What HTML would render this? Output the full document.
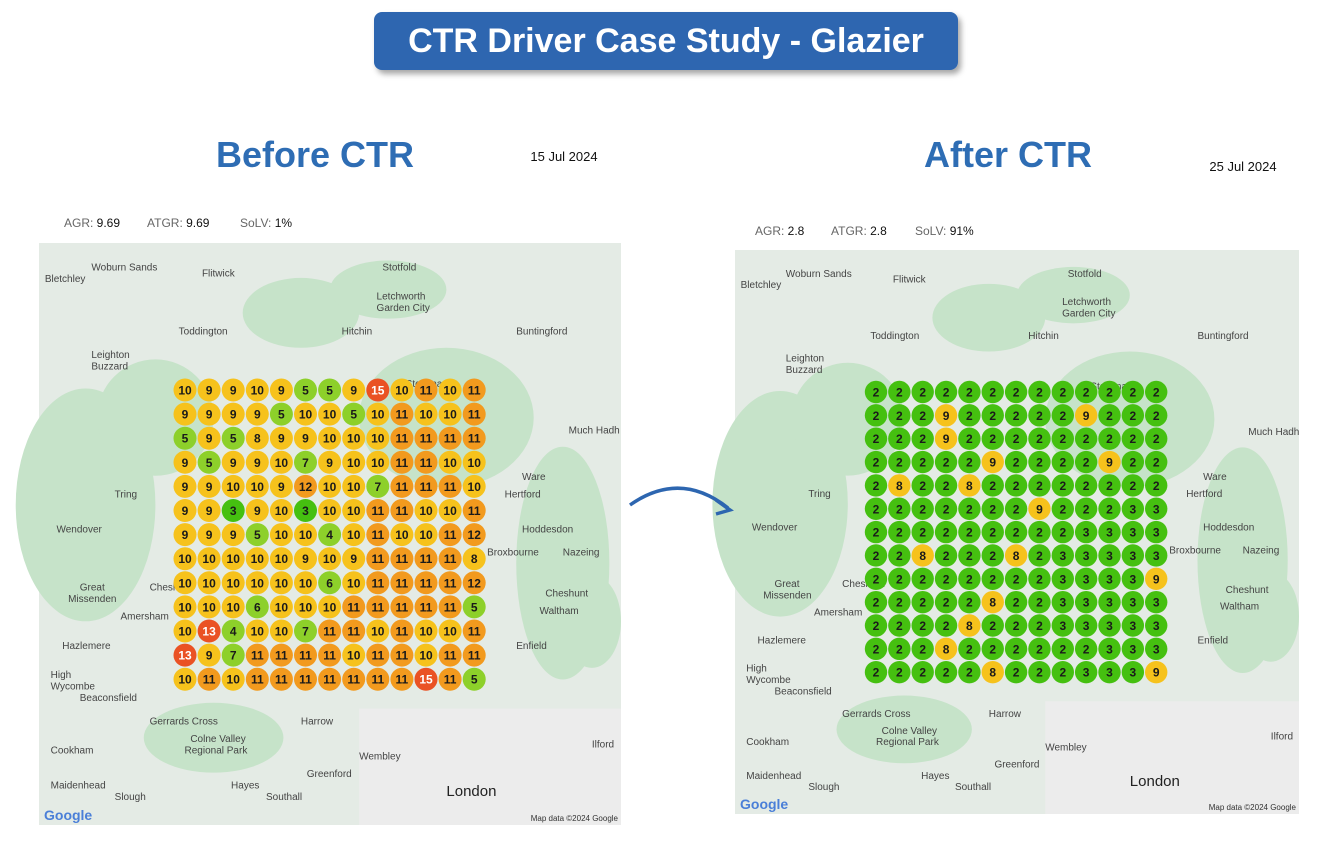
<!DOCTYPE html>
<html><head><meta charset="utf-8"><style>
body{margin:0;background:#fff;font-family:"Liberation Sans",sans-serif;}
svg{display:block}
</style></head><body>
<svg width="1331" height="852" viewBox="0 0 1331 852">
<defs>
<filter id="sh" x="-10%" y="-20%" width="130%" height="160%"><feDropShadow dx="3" dy="4" stdDeviation="3" flood-color="#000" flood-opacity="0.35"/></filter>
</defs>
<g>
<rect x="374" y="12" width="584" height="58" rx="8" fill="#2d66b0" filter="url(#sh)"/>
<text x="666" y="52" text-anchor="middle" fill="#fff" font-size="34" font-weight="bold">CTR Driver Case Study - Glazier</text>
</g>
<text x="315" y="167" text-anchor="middle" fill="#2e6db4" font-size="36" font-weight="bold">Before CTR</text>
<text x="564" y="161" text-anchor="middle" font-size="13" fill="#111">15 Jul 2024</text>
<text x="1008" y="167" text-anchor="middle" fill="#2e6db4" font-size="36" font-weight="bold">After CTR</text>
<text x="1243" y="171" text-anchor="middle" font-size="13" fill="#111">25 Jul 2024</text>
<g font-size="12" fill="#666">
<text x="64" y="227">AGR: <tspan fill="#111">9.69</tspan></text>
<text x="147" y="227">ATGR: <tspan fill="#111">9.69</tspan></text>
<text x="240" y="227">SoLV: <tspan fill="#111">1%</tspan></text>
</g>
<g font-size="12" fill="#666">
<text x="755" y="235">AGR: <tspan fill="#111">2.8</tspan></text>
<text x="831" y="235">ATGR: <tspan fill="#111">2.8</tspan></text>
<text x="915" y="235">SoLV: <tspan fill="#111">91%</tspan></text>
</g>
<g id="mapL"></g>
<g id="mapR"></g>
<path d="M630 505 Q680 470 728 508" fill="none" stroke="#2d66b0" stroke-width="3.5"/>
<path d="M716 500 L730 510 L716 514" fill="none" stroke="#2d66b0" stroke-width="3.5"/>
</svg>
<script>
const beforeRanks=[
[10,9,9,10,9,5,5,9,15,10,11,10,11],
[9,9,9,9,5,10,10,5,10,11,10,10,11],
[5,9,5,8,9,9,10,10,10,11,11,11,11],
[9,5,9,9,10,7,9,10,10,11,11,10,10],
[9,9,10,10,9,12,10,10,7,11,11,11,10],
[9,9,3,9,10,3,10,10,11,11,10,10,11],
[9,9,9,5,10,10,4,10,11,10,10,11,12],
[10,10,10,10,10,9,10,9,11,11,11,11,8],
[10,10,10,10,10,10,6,10,11,11,11,11,12],
[10,10,10,6,10,10,10,11,11,11,11,11,5],
[10,13,4,10,10,7,11,11,10,11,10,10,11],
[13,9,7,11,11,11,11,10,11,11,10,11,11],
[10,11,10,11,11,11,11,11,11,11,15,11,5]];
const afterRanks=[
[2,2,2,2,2,2,2,2,2,2,2,2,2],
[2,2,2,9,2,2,2,2,2,9,2,2,2],
[2,2,2,9,2,2,2,2,2,2,2,2,2],
[2,2,2,2,2,9,2,2,2,2,9,2,2],
[2,8,2,2,8,2,2,2,2,2,2,2,2],
[2,2,2,2,2,2,2,9,2,2,2,3,3],
[2,2,2,2,2,2,2,2,2,3,3,3,3],
[2,2,8,2,2,2,8,2,3,3,3,3,3],
[2,2,2,2,2,2,2,2,3,3,3,3,9],
[2,2,2,2,2,8,2,2,3,3,3,3,3],
[2,2,2,2,8,2,2,2,3,3,3,3,3],
[2,2,2,8,2,2,2,2,2,2,3,3,3],
[2,2,2,2,2,8,2,2,2,3,3,3,9]];
const places=[["Bletchley",0.01,0.05],["Woburn Sands",0.09,0.03],["Flitwick",0.28,0.04],["Stotfold",0.59,0.03],["Letchworth",0.58,0.08],["Garden City",0.58,0.1],["Toddington",0.24,0.14],["Hitchin",0.52,0.14],["Buntingford",0.82,0.14],["Leighton",0.09,0.18],["Buzzard",0.09,0.2],["Stevenage",0.63,0.23],["Much Hadh",0.91,0.31],["Tring",0.13,0.42],["Ware",0.83,0.39],["Hertford",0.8,0.42],["Wendover",0.03,0.48],["Hoddesdon",0.83,0.48],["Broxbourne",0.77,0.52],["Nazeing",0.9,0.52],["Chesham",0.19,0.58],["Great",0.07,0.58],["Missenden",0.05,0.6],["Cheshunt",0.87,0.59],["Waltham",0.86,0.62],["Amersham",0.14,0.63],["Hazlemere",0.04,0.68],["Enfield",0.82,0.68],["High",0.02,0.73],["Wycombe",0.02,0.75],["Beaconsfield",0.07,0.77],["Gerrards Cross",0.19,0.81],["Harrow",0.45,0.81],["Colne Valley",0.26,0.84],["Regional Park",0.25,0.86],["Cookham",0.02,0.86],["Wembley",0.55,0.87],["Greenford",0.46,0.9],["Maidenhead",0.02,0.92],["Slough",0.13,0.94],["Hayes",0.33,0.92],["Southall",0.39,0.94],["Ilford",0.95,0.85]];
function col(v){return v<=3?"#45c010":v<=7?"#8dd02a":v<=10?"#f6c21c":v<=12?"#f29a1e":"#ea5224";}
const NS="http://www.w3.org/2000/svg";
function mk(t,a,p){const e=document.createElementNS(NS,t);for(const k in a)e.setAttribute(k,a[k]);p.appendChild(e);return e;}
function drawMap(g,mx,my,mw,mh,gx,gy,step,r,data){
 mk("rect",{x:mx,y:my,width:mw,height:mh,fill:"#e4ebe5"},g);
 const blobs=[[0.45,0.12,0.1,0.06],[0.08,0.45,0.12,0.2],[0.7,0.3,0.15,0.12],[0.9,0.55,0.08,0.2],[0.3,0.85,0.12,0.06],[0.95,0.65,0.05,0.08],[0.2,0.3,0.1,0.1],[0.6,0.08,0.1,0.05]];
 blobs.forEach(b=>mk("ellipse",{cx:mx+b[0]*mw,cy:my+b[1]*mh,rx:b[2]*mw,ry:b[3]*mh,fill:"#c6e3c9"},g));
 mk("rect",{x:mx+0.55*mw,y:my+0.8*mh,width:0.45*mw,height:0.2*mh,fill:"#ececec"},g);
 places.forEach(p=>{const t=mk("text",{x:mx+p[1]*mw,y:my+p[2]*mh+10,"font-size":10,fill:"#444"},g);t.textContent=p[0];});
 const lt=mk("text",{x:mx+0.7*mw,y:my+0.95*mh,"font-size":15,fill:"#222"},g);lt.textContent="London";
 const gg=mk("text",{x:mx+5,y:my+mh-5,"font-size":14,"font-weight":"bold",fill:"#4a7fd8"},g);gg.textContent="Google";
 const md=mk("text",{x:mx+mw-3,y:my+mh-4,"font-size":8,fill:"#333","text-anchor":"end"},g);md.textContent="Map data ©2024 Google";
 data.forEach((row,i)=>row.forEach((v,j)=>{
  const cx=gx+j*step, cy=gy+i*step;
  const c=mk("circle",{cx:cx,cy:cy,r:r,fill:col(v)},g);
  
  
  const t=mk("text",{x:cx,y:cy+4.5,"text-anchor":"middle","font-size":12,"font-weight":"bold",fill:v>=13?"#fff":"#1a1a1a"},g);
  
  
  t.textContent=v;
 }));
}
drawMap(document.getElementById("mapL"),39,243,582,582,185,390,24.1,11.5,beforeRanks);
drawMap(document.getElementById("mapR"),735,250,564,564,876,392,23.35,11.2,afterRanks);
</script>
</body></html>
